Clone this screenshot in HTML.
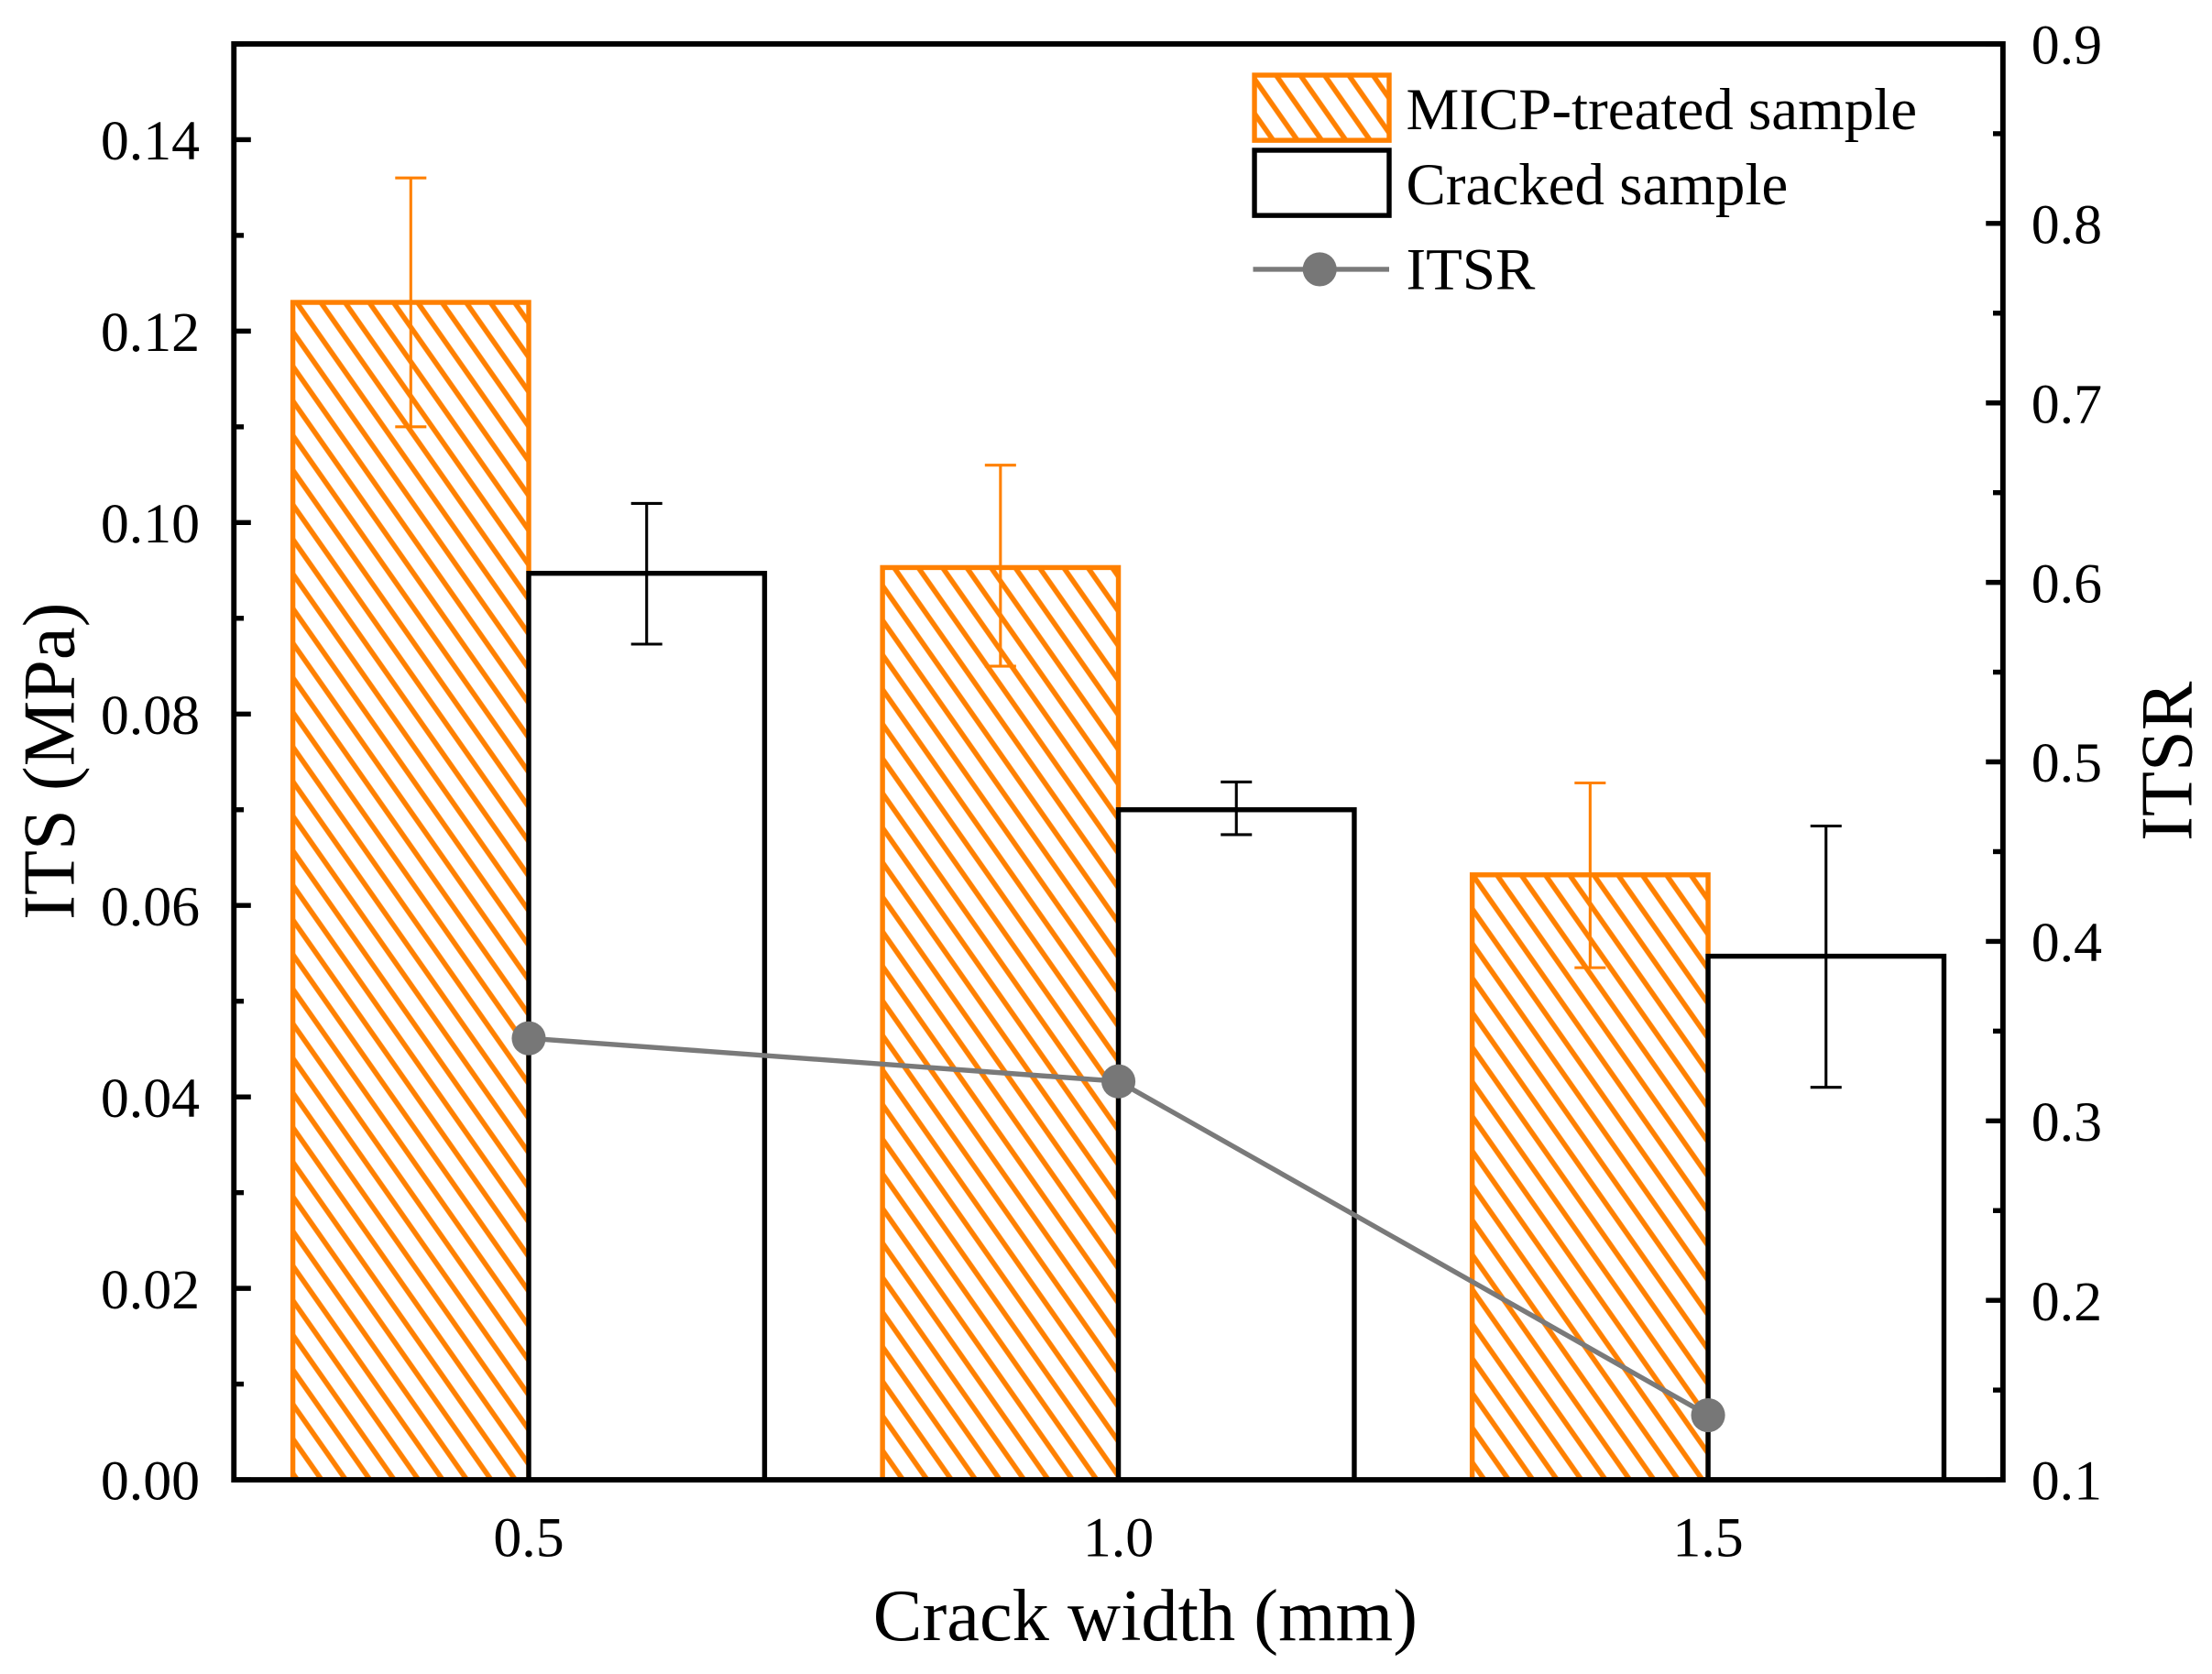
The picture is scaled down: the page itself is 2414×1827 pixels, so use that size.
<!DOCTYPE html>
<html><head><meta charset="utf-8"><style>
html,body{margin:0;padding:0;background:#fff;}
svg{display:block;font-family:"Liberation Serif","Times New Roman",serif;}
</style></head><body>
<svg id="chart" width="2414" height="1827" viewBox="0 0 1560.5 1181" preserveAspectRatio="none" xmlns="http://www.w3.org/2000/svg">
<defs>
<pattern id="hatch" patternUnits="userSpaceOnUse" width="14" height="14" patternTransform="rotate(-35)">
<line x1="7" y1="-2" x2="7" y2="16" stroke="#FF8000" stroke-width="3.6"/>
</pattern>
</defs>
<g id="plot"></g>
</svg>
<script>
const categories = [0.5, 1.0, 1.5];
const micpValues = [0.123, 0.0953, 0.0632];
const micpErrHigh = [0.136, 0.106, 0.0728];
const micpErrLow = [0.110, 0.085, 0.0535];
const crackedValues = [0.0947, 0.070, 0.0547];
const crackedErrHigh = [0.102, 0.0729, 0.0683];
const crackedErrLow = [0.0873, 0.0674, 0.041];
const itsrValues = [0.346, 0.322, 0.136];
const leftTicks = ["0.00","0.02","0.04","0.06","0.08","0.10","0.12","0.14"];
const rightTicks = ["0.1","0.2","0.3","0.4","0.5","0.6","0.7","0.8","0.9"];
const xTicks = ["0.5","1.0","1.5"];

const NS = "http://www.w3.org/2000/svg";
const g = document.getElementById('plot');
const L=165, R=1413, T=31, B=1044;
const xMin=0.25, xMax=1.75, yMin=0, yMax=0.15, rMin=0.1, rMax=0.9;
const xs = v => L + (v-xMin)/(xMax-xMin)*(R-L);
const ys = v => B - (v-yMin)/(yMax-yMin)*(B-T);
const rs = v => B - (v-rMin)/(rMax-rMin)*(B-T);
const barW = 0.2;

function mk(tag, attrs, parent){
  const e = document.createElementNS(NS, tag);
  for (const k in attrs) e.setAttribute(k, attrs[k]);
  (parent||g).appendChild(e);
  return e;
}

categories.forEach((c,i)=>{
  let b = mk('rect',{x:xs(c-barW),y:ys(micpValues[i]),width:xs(c)-xs(c-barW),height:ys(0)-ys(micpValues[i]),fill:'url(#hatch)',stroke:'#FF8000','stroke-width':3.5});
  
  
  let b2 = mk('rect',{x:xs(c),y:ys(crackedValues[i]),width:xs(c+barW)-xs(c),height:ys(0)-ys(crackedValues[i]),fill:'#fff',stroke:'#000','stroke-width':3.5});
  
  
});
function err(x, hi, lo, col){
  const e = mk('g',{stroke:col,'stroke-width':2,fill:'none'});
  
  
  mk('line',{x1:x,x2:x,y1:ys(hi),y2:ys(lo)},e);
  mk('line',{x1:x-11,x2:x+11,y1:ys(hi),y2:ys(hi)},e);
  mk('line',{x1:x-11,x2:x+11,y1:ys(lo),y2:ys(lo)},e);
}
categories.forEach((c,i)=>{
  err(xs(c-barW/2), micpErrHigh[i], micpErrLow[i], '#FF8000');
  err(xs(c+barW/2), crackedErrHigh[i], crackedErrLow[i], '#000');
});
const pts = categories.map((c,i)=>xs(c)+','+rs(itsrValues[i])).join(' ');
const pl = mk('polyline',{points:pts,fill:'none',stroke:'#7a7a7a','stroke-width':3.5});


categories.forEach((c,i)=>{
  const p = mk('circle',{cx:xs(c),cy:rs(itsrValues[i]),r:12,fill:'#777'});
  
  
});
const fr = mk('rect',{x:L,y:T,width:R-L,height:B-T,fill:'none',stroke:'#000','stroke-width':3.8});


for (let k=0;k<=15;k++){
  const v=k*0.01, y=ys(v), major=k%2===0;
  mk('line',{x1:L,x2:L+(major?12:7),y1:y,y2:y,stroke:'#000','stroke-width':3.5});
}
leftTicks.forEach(t=>{
  const tx = mk('text',{x:L-24,y:ys(parseFloat(t))+14,'text-anchor':'end','font-size':40});
  tx.textContent=t;
  
  
});
for (let k=0;k<=16;k++){
  const v=0.1+k*0.05, y=rs(v), major=k%2===0;
  mk('line',{x1:R,x2:R-(major?12:7),y1:y,y2:y,stroke:'#000','stroke-width':3.5});
}
rightTicks.forEach(t=>{
  const tx = mk('text',{x:R+20,y:rs(parseFloat(t))+14,'text-anchor':'start','font-size':40});
  tx.textContent=t;
  
  
});
xTicks.forEach(t=>{
  const tx = mk('text',{x:xs(parseFloat(t)),y:B+54,'text-anchor':'middle','font-size':40});
  tx.textContent=t;
  
  
});
</script>
<script>
(function(){
  const g=document.getElementById('plot');
  const NS="http://www.w3.org/2000/svg";
  function t(x,y,s,txt,name,tr){
    const e=document.createElementNS(NS,'text');
    e.setAttribute('x',x);e.setAttribute('y',y);e.setAttribute('font-size',s);
    e.setAttribute('text-anchor','middle');
    if(tr)e.setAttribute('transform',tr);
    e.textContent=txt;
    
    
    g.appendChild(e);
  }
  t(808,1157,52,'Crack width (mm)','x-axis-title');
  t(0,0,52,'ITS (MPa)','y-axis-title','translate(52,537) rotate(-90)');
  t(0,0,52,'ITSR','right-axis-title','translate(1546,537) rotate(-90)');
  const lg=document.createElementNS(NS,'g');
  
  
  lg.innerHTML='<rect x="885" y="53" width="95" height="46" fill="url(#hatch)" stroke="#FF8000" stroke-width="3.5"/>'+
  '<rect x="885" y="106" width="95" height="46" fill="#fff" stroke="#000" stroke-width="3.5"/>'+
  '<line x1="884" y1="190" x2="980" y2="190" stroke="#7a7a7a" stroke-width="3.5"/>'+
  '<circle cx="931" cy="190" r="12" fill="#777"/>'+
  '<text x="992" y="91" font-size="42">MICP-treated sample</text>'+
  '<text x="992" y="144" font-size="42">Cracked sample</text>'+
  '<text x="992" y="204" font-size="42">ITSR</text>';
  g.appendChild(lg);
})();
</script>
</body></html>
